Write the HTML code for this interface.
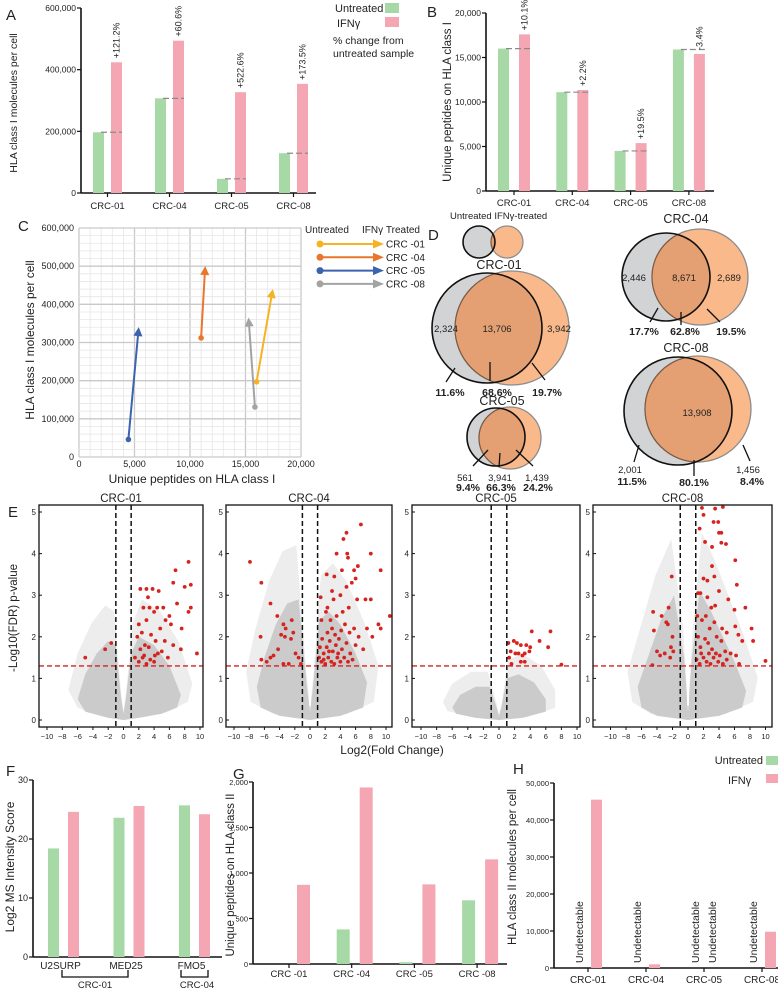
<!DOCTYPE html>
<html><head><meta charset="utf-8"><style>
html,body{margin:0;padding:0;background:#fff}
svg{display:block;font-family:"Liberation Sans",Arial,sans-serif}
text{fill:#222}
</style></head><body>
<svg id="fig" width="778" height="990" viewBox="0 0 778 990" xmlns="http://www.w3.org/2000/svg">
<defs>
<clipPath id="clip01"><circle cx="487" cy="328" r="55"/></clipPath>
<clipPath id="clip04"><circle cx="666" cy="277" r="44"/></clipPath>
<clipPath id="clip05"><circle cx="496" cy="437" r="29"/></clipPath>
<clipPath id="clip08"><circle cx="678" cy="411" r="54"/></clipPath>
<clipPath id="clipLeg"><circle cx="479" cy="242" r="16"/></clipPath>
</defs>
</svg>
<script>
// ---------- DATA ----------
const aCats=['CRC-01','CRC-04','CRC-05','CRC-08'];
const aUntreated=[197000,307000,46000,129000];
const aIfn=[424000,494000,327000,354000];
const aPct=['+121.2%','+60.6%','+522.6%','+173.5%'];
const aTicks=[0,200000,400000,600000];

const bCats=['CRC-01','CRC-04','CRC-05','CRC-08'];
const bUntreated=[16000,11100,4500,15900];
const bIfn=[17600,11350,5380,15400];
const bPct=['+10.1%','+2.2%','+19.5%','-3.4%'];
const bTicks=[0,5000,10000,15000,20000];

const cNames=['CRC -01','CRC -04','CRC -05','CRC -08'];
const cPepUntreated=[16000,11000,4450,15850];
const cPepIfn=[17400,11350,5350,15300];
const cMolUntreated=[197000,312000,46000,131000];
const cMolIfn=[430000,490000,330000,355000];
const cColors=['#f5b323','#e8762c','#3c63ad','#a3a3a3'];
const cXTicks=[0,5000,10000,15000,20000];
const cYTicks=[0,100000,200000,300000,400000,500000,600000];

const fCats=['U2SURP','MED25','FMO5'];
const fUntreated=[18.4,23.6,25.7];
const fIfn=[24.6,25.6,24.2];
const fTicks=[0,10,20,30];

const gCats=['CRC -01','CRC -04','CRC -05','CRC -08'];
const gUntreated=[0,380,20,700];
const gIfn=[870,1940,875,1150];
const gTicks=[0,500,1000,1500,2000];

const hCats=['CRC-01','CRC-04','CRC-05','CRC-08'];
const hUntreated=[null,null,null,null];
const hIfn=[45500,1000,null,9800];
const hTicks=[0,10000,20000,30000,40000,50000];

const eTitles=['CRC-01','CRC-04','CRC-05','CRC-08'];
const eXTicks=[-10,-8,-6,-4,-2,0,2,4,6,8,10];
const eYTicks=[0,1,2,3,4,5];
const eCloud1=[[-6,0.5],[-5,1.1],[-3.5,1.6],[-2,1.9],[-1,1.8],[-0.3,0.5],[0,0.15],[0.3,0.5],[1,1.6],[2,2.0],[4,1.8],[6,1.3],[7.5,0.6],[7,0.3],[5,0.15],[2,0.05],[0,0],[-2,0.05],[-5,0.2]];
const eCloud2=[[-7,0.8],[-6,1.5],[-4.5,2.3],[-3,2.8],[-1.5,2.9],[-0.4,0.8],[0,0.2],[0.4,0.8],[1.2,2.4],[2.5,2.6],[4,2.3],[6,1.6],[7.5,0.9],[7,0.3],[4,0.1],[0,0],[-4,0.1],[-6.5,0.3]];
const eCloud3=[[-6,0.3],[-5,0.6],[-3,0.8],[-1.2,0.8],[-0.3,0.3],[0,0.1],[0.3,0.3],[1,1.0],[2.5,1.1],[4.5,0.9],[6,0.5],[6,0.2],[3,0.05],[0,0],[-3,0.05],[-5.5,0.15]];
const eCloud4=[[-6.5,0.8],[-5,1.6],[-3.5,2.4],[-1.8,3.0],[-0.5,1.5],[0,0.2],[0.5,1.5],[1.5,3.1],[3,2.6],[4.5,2.0],[6,1.4],[7.5,0.7],[7,0.3],[4,0.1],[0,0],[-4,0.1],[-6,0.3]];
const eRed1=[[2,1.4],[2.5,1.5],[3,1.35],[3.5,1.45],[4,1.4],[4.5,1.6],[2.2,1.7],[2.8,1.8],[3.3,1.75],[4.2,1.9],[5,1.65],[1.8,2.0],[2.4,2.1],[3.6,2.05],[4.8,2.2],[5.5,2.4],[6.2,2.3],[2,2.3],[3,2.4],[4,2.6],[2.6,2.7],[3.4,2.7],[4.4,2.7],[5.2,2.7],[6,2.5],[7,2.8],[7.6,2.2],[8.5,2.6],[8.8,2.7],[9.6,1.6],[7.5,1.7],[6.5,1.8],[2.2,3.15],[3,3.15],[3.8,3.15],[4.6,3.1],[6.5,3.3],[8,3.2],[8.8,3.25],[6.8,3.6],[8.5,3.8],[-2.4,1.7],[-5,1.5],[-1.6,1.85],[5.8,1.5],[1.5,1.5],[3.2,2.95],[2.7,1.55],[4.1,1.55],[5.4,1.9]];
const eRed2=[[-7.9,3.8],[-6.4,3.3],[-5.2,2.8],[-4.3,2.5],[-6.5,2.0],[-6.4,1.45],[-5.7,1.4],[-5.2,1.5],[-4.8,1.55],[-4.2,1.7],[-3.8,2.05],[-3.3,2.0],[-3.5,2.3],[-3.2,2.2],[-2.4,2.4],[-2.2,2.1],[-2.5,1.95],[-1.9,1.6],[-1.5,1.5],[-2.8,1.35],[-3.5,1.35],[-1.2,1.35],[1.2,1.5],[1.5,1.4],[1.8,1.6],[2,1.35],[2.2,1.75],[2.4,1.5],[2.6,1.9],[2.8,1.4],[3,1.65],[3.2,1.35],[3.4,1.8],[3.6,1.5],[3.8,1.95],[4,1.4],[4.2,1.7],[4.5,1.5],[4.8,1.85],[5,1.4],[5.3,1.6],[5.6,1.45],[6,1.8],[1.6,1.95],[2.3,2.1],[2.9,2.2],[3.3,2.05],[4.1,2.15],[4.6,2.3],[5.2,2.1],[5.8,2.2],[6.4,2.0],[7,1.7],[7.5,2.2],[8.2,2.0],[9,2.3],[9.3,2.2],[10.5,2.5],[1.5,2.4],[2.1,2.6],[2.7,2.4],[3.5,2.5],[4.3,2.6],[5.1,2.7],[1.4,2.95],[2.3,2.7],[3.1,2.9],[4,3.0],[4.8,3.2],[5.5,3.3],[6.2,2.9],[7.3,2.9],[8.0,2.9],[2.2,3.5],[3.2,3.45],[4.2,3.6],[5.8,3.6],[6.0,3.4],[6.3,3.7],[9.3,3.6],[3.5,4.0],[4.9,4.0],[8.0,4.0],[4.4,4.35],[4.8,4.5],[6.7,4.7],[5.0,3.9],[2.9,3.1],[1.8,1.45],[2.5,1.65],[3.7,1.6],[1.3,1.75]];
const eRed3=[[1.2,1.85],[1.3,1.5],[1.5,1.65],[1.9,1.9],[2.1,1.6],[2.3,1.85],[2.5,1.6],[2.8,1.8],[3.0,1.55],[3.3,1.6],[3.5,1.8],[3.9,1.65],[3.3,1.4],[2.8,1.4],[4.2,2.13],[5.2,1.9],[6.3,1.75],[6.6,2.13],[8.0,1.33],[4.0,1.75],[1.6,1.35]];
const eRed4=[[-4.5,2.6],[-4.4,2.15],[-3.4,2.5],[-2.1,3.45],[-4.0,1.65],[-3.6,1.55],[-3.0,1.6],[-2.8,2.35],[-2.6,2.3],[-2.2,1.75],[-1.9,1.65],[-2.3,1.5],[-4.6,1.32],[-2.0,2.0],[-2.5,2.7],[1.8,5.1],[2.0,4.93],[3.5,5.08],[4.5,5.12],[1.5,4.6],[2.2,4.28],[3.3,4.76],[3.9,4.76],[4.0,4.5],[4.3,4.5],[3.1,4.16],[4.3,4.26],[4.9,4.23],[6.1,3.84],[3.1,3.7],[2.0,3.4],[2.5,3.35],[3.4,3.45],[1.3,3.05],[1.6,3.05],[2.5,2.95],[3.0,2.7],[3.5,2.75],[4.0,3.1],[5.2,2.9],[6.3,3.25],[7.4,2.7],[6.0,2.65],[8.2,2.2],[8.4,1.9],[10,1.42],[1.2,2.5],[1.8,2.4],[2.3,2.5],[2.8,2.2],[3.4,2.35],[4.4,2.2],[5.0,2.1],[6.1,2.25],[6.5,2.05],[7.0,1.9],[1.3,2.0],[1.6,1.75],[2.2,1.95],[2.6,1.85],[3.1,1.7],[3.7,2.0],[4.3,1.9],[4.8,1.65],[5.5,1.6],[6.2,1.55],[6.6,1.35],[1.1,1.45],[1.5,1.35],[2.0,1.5],[2.4,1.4],[2.9,1.35],[3.3,1.5],[3.9,1.4],[4.5,1.35],[5.0,1.45],[1.7,1.6],[2.7,1.6],[3.6,1.6],[4.1,1.55]];

// ---------- HELPERS ----------
const NS='http://www.w3.org/2000/svg';
const svg=document.getElementById('fig');
function E(p,tag,a,t){const e=document.createElementNS(NS,tag);for(const k in a)e.setAttribute(k,a[k]);if(t!=null)e.textContent=t;p.appendChild(e);return e;}
function fmt(v){return v.toLocaleString('en-US');}
const GREEN='#a6d9a6', PINK='#f4a7b2';

function label(x,y,txt,size,name,extra){
  const t=E(svg,'text',Object.assign({x:x,y:y,'font-size':size},extra||{}),txt);
  
  
  return t;
}
function vlabel(x,y,txt,size,name){
  const t=E(svg,'text',{x:0,y:0,'font-size':size,'text-anchor':'middle',transform:'translate('+x+','+y+') rotate(-90)'},txt);
  
  
  return t;
}

function barChart(o){
  const g=E(svg,'g',{});
  
  
  const ys=v=>o.y0-(v/o.max)*(o.y0-o.ytop);
  const ax=E(g,'line',{x1:o.ax,y1:o.ytop,x2:o.ax,y2:o.y0,stroke:'#111','stroke-width':1.6});
  
  
  const xx=E(g,'line',{x1:o.ax,y1:o.y0,x2:o.xend,y2:o.y0,stroke:'#111','stroke-width':1.6});
  
  
  o.ticks.forEach(v=>{
    const tk=E(g,'line',{x1:o.ax-4,y1:ys(v),x2:o.ax,y2:ys(v),stroke:'#111','stroke-width':1.2});
    
    
    const tl=E(g,'text',{x:o.ax-5,y:ys(v)+3,'font-size':o.tfs||8.5,'text-anchor':'end'},fmt(v));
    
    
  });
  o.cats.forEach((c,i)=>{
    const cx=o.c0+i*o.step;
    const u=o.unt[i], f=o.ifn[i];
    if(u!=null){
      const r=E(g,'rect',{x:cx-o.gOff,y:ys(u),width:o.w,height:o.y0-ys(u),fill:GREEN});
      
      
    } else if(o.undet){
      const t=E(g,'text',{x:0,y:0,'font-size':10.5,transform:'translate('+(cx-o.gOff+o.w-2)+','+(o.y0-5)+') rotate(-90)'},'Undetectable');
      
      
    }
    if(f!=null){
      const r=E(g,'rect',{x:cx+o.pOff,y:ys(f),width:o.w,height:o.y0-ys(f),fill:PINK});
      
      
    } else if(o.undet){
      const t=E(g,'text',{x:0,y:0,'font-size':10.5,transform:'translate('+(cx+o.pOff+o.w-2)+','+(o.y0-5)+') rotate(-90)'},'Undetectable');
      
      
    }
    if(o.dash && u!=null){
      const d=E(g,'line',{x1:cx-o.gOff+o.w-3,y1:ys(u),x2:cx+o.pOff+o.w,y2:ys(u),stroke:'#8a8a8a','stroke-width':1.2,'stroke-dasharray':'6,3'});
      
      
    }
    if(o.pct){
      const px=cx+o.pOff+o.w/2+3, py=ys(f)-4;
      const t=E(g,'text',{x:0,y:0,'font-size':9,transform:'translate('+px+','+py+') rotate(-90)'},o.pct[i]);
      
      
    }
    if(o.catTick){
      const tk=E(g,'line',{x1:cx+o.tickOff,y1:o.y0,x2:cx+o.tickOff,y2:o.y0+4,stroke:'#111','stroke-width':1.2});
      
      
    }
    const tl=E(g,'text',{x:cx+o.labOff,y:o.y0+o.labDy,'font-size':o.cfs||9.5,'text-anchor':'middle'},c);
    
    
  });
}

// ---------- PANEL A ----------
label(6,20,'A',15,'panel-label-a');
barChart({name:'chart-a',cats:aCats,unt:aUntreated,ifn:aIfn,pct:aPct,ticks:aTicks,max:600000,ax:81,ytop:8,y0:193,xend:316,c0:107.5,step:62,w:11,gOff:14.5,pOff:3.5,dash:true,catTick:true,tickOff:0,labOff:0,labDy:16});
vlabel(17,103,'HLA class I molecules per cell',10.5,'y-axis-title-a');
label(335,12,'Untreated',11,'legend-untreated-label');
let lg=E(svg,'rect',{x:385,y:3,width:14,height:10,fill:GREEN});


label(337,27,'IFNγ',11,'legend-ifn-label');
lg=E(svg,'rect',{x:385,y:17,width:14,height:10,fill:PINK});


label(333,44,'%  change from',10.5,'legend-percent-note');
label(333,57,'untreated sample',10.5,'legend-percent-note-2');

// ---------- PANEL B ----------
label(427,17,'B',15,'panel-label-b');
barChart({name:'chart-b',cats:bCats,unt:bUntreated,ifn:bIfn,pct:bPct,ticks:bTicks,max:20000,ax:486,ytop:13,y0:191,xend:714,c0:514,step:58.3,w:11,gOff:16,pOff:5,dash:true,catTick:true,tickOff:0,labOff:0,labDy:15});
vlabel(451,102,'Unique peptides on HLA class I',11.5,'y-axis-title-b');

// ---------- PANEL C ----------
label(18,231,'C',15,'panel-label-c');
(function(){
  const X0=79,X1=301,Y0=457,Y1=228;
  const xs=v=>X0+v/20000*(X1-X0), ys=v=>Y0-v/600000*(Y0-Y1);
  const g=E(svg,'g',{});
  
  
  for(let v=0;v<=20000;v+=1000){
    const l=E(g,'line',{x1:xs(v),y1:Y1,x2:xs(v),y2:Y0,stroke:v%5000===0?'#c9c9c9':'#e6e6e6','stroke-width':v%5000===0?1.3:0.8});
    
    
  }
  for(let v=0;v<=600000;v+=20000){
    const l=E(g,'line',{x1:X0,y1:ys(v),x2:X1,y2:ys(v),stroke:v%100000===0?'#c9c9c9':'#e6e6e6','stroke-width':v%100000===0?1.3:0.8});
    
    
  }
  cYTicks.forEach(v=>{
    const t=E(g,'text',{x:X0-5,y:ys(v)+3,'font-size':9,'text-anchor':'end'},fmt(v));
    
    
  });
  cXTicks.forEach(v=>{
    const t=E(g,'text',{x:xs(v),y:Y0+10,'font-size':9,'text-anchor':'middle'},fmt(v));
    
    
  });
  cNames.forEach((n,i)=>{
    const x1=xs(cPepUntreated[i]),y1=ys(cMolUntreated[i]),x2=xs(cPepIfn[i]),y2=ys(cMolIfn[i]);
    const ang=Math.atan2(y2-y1,x2-x1);
    const ln=E(g,'line',{x1:x1,y1:y1,x2:x2,y2:y2,stroke:cColors[i],'stroke-width':2});
    
    
    const L=9,W=4.5;
    const tx=x2+Math.cos(ang)*4, ty=y2+Math.sin(ang)*4;
    const bx=tx-Math.cos(ang)*L, by=ty-Math.sin(ang)*L;
    const pts=[[tx,ty],[bx-Math.sin(ang)*W,by+Math.cos(ang)*W],[bx+Math.sin(ang)*W,by-Math.cos(ang)*W]].map(p=>p.join(',')).join(' ');
    const hd=E(g,'polygon',{points:pts,fill:cColors[i]});
    
    
    const dt=E(g,'circle',{cx:x1,cy:y1,r:2.8,fill:cColors[i]});
    
    
    const ly=244+i*13.3;
    const lc=E(g,'circle',{cx:320,cy:ly,r:3.5,fill:cColors[i]});
    
    
    const ll=E(g,'line',{x1:320,y1:ly,x2:375,y2:ly,stroke:cColors[i],'stroke-width':2});
    
    
    const lh=E(g,'polygon',{points:'373,'+(ly-4.5)+' 384,'+ly+' 373,'+(ly+4.5),fill:cColors[i]});
    
    
    const lt=E(g,'text',{x:386,y:ly+3.5,'font-size':10},n);
    
    
  });
})();
label(305,233,'Untreated',10,'legend-c-untreated');
label(362,233,'IFNγ Treated',10,'legend-c-treated');
label(192,483,'Unique peptides on HLA class I',12,'x-axis-title-c',{'text-anchor':'middle'});
vlabel(34,340,'HLA class I molecules per cell',12,'y-axis-title-c');

// ---------- PANEL D (Venn) ----------
label(428,240,'D',15,'panel-label-d');
function venn(g1,o1,clip,name){
  const g=E(svg,'g',{});
  
  
  const a=E(g,'circle',{cx:g1[0],cy:g1[1],r:g1[2],fill:'#d1d3d5'});
  
  
  const b=E(g,'circle',{cx:o1[0],cy:o1[1],r:o1[2],fill:'#f9b98b',stroke:'#8c8c8c','stroke-width':1.3});
  
  
  const c=E(g,'circle',{cx:o1[0],cy:o1[1],r:o1[2],fill:'#e4a072',stroke:'#7b5a45','stroke-width':1.2,'clip-path':'url(#'+clip+')'});
  
  
  const d=E(g,'circle',{cx:g1[0],cy:g1[1],r:g1[2],fill:'none',stroke:'#111','stroke-width':1.6});
  
  
}
venn([479,242,16],[507,242,16],'clipLeg','venn-legend');
label(450,219,'Untreated IFNγ-treated',9.5,'venn-legend-label');
venn([487,328,55],[512,328,57],'clip01','venn-crc-01');
venn([666,277,44],[700,277,48],'clip04','venn-crc-04');
venn([496,437,29],[510,438,31],'clip05','venn-crc-05');
venn([678,411,54],[698,409,53],'clip08','venn-crc-08');
label(499,269,'CRC-01',12.5,'venn-title-crc-01',{'text-anchor':'middle'});
label(686,223,'CRC-04',12.5,'venn-title-crc-04',{'text-anchor':'middle'});
label(502,405,'CRC-05',12.5,'venn-title-crc-05',{'text-anchor':'middle'});
label(686,352,'CRC-08',12.5,'venn-title-crc-08',{'text-anchor':'middle'});
[[446,332,'2,324'],[497,332,'13,706'],[559,332,'3,942'],[634,281,'2,446'],[684,281,'8,671'],[729,281,'2,689'],[697,416,'13,908'],[465,481,'561'],[500,481,'3,941'],[537,481,'1,439'],[630,473,'2,001'],[748,473,'1,456']].forEach(d=>{
  label(d[0],d[1],d[2],9.5,'venn-count',{'text-anchor':'middle'});
});
[[450,396,'11.6%'],[497,396,'68.6%'],[547,396,'19.7%'],[644,335,'17.7%'],[685,335,'62.8%'],[731,335,'19.5%'],[468,491,'9.4%'],[501,491,'66.3%'],[538,491,'24.2%'],[632,485,'11.5%'],[694,486,'80.1%'],[752,485,'8.4%']].forEach(d=>{
  label(d[0],d[1],d[2],10.5,'venn-percent',{'text-anchor':'middle','font-weight':'bold'});
});
[[455,368,446,382],[490,362,490,381],[532,363,545,380],[658,308,650,322],[681,312,681,325],[707,309,720,322],[488,450,473,466],[500,453,499,467],[516,450,533,466],[639,445,634,462],[694,460,694,476],[743,445,750,461]].forEach(l=>{
  const e=E(svg,'line',{x1:l[0],y1:l[1],x2:l[2],y2:l[3],stroke:'#111','stroke-width':1.3});
  
  
});

// ---------- PANEL E (volcano) ----------
label(8,517,'E',15,'panel-label-e');
const eLayout=[{z:123.5,u:7.65,L:39,R:203},{z:310,u:7.6,L:226,R:392},{z:499,u:7.8,L:412,R:580},{z:688,u:7.75,L:593,R:772}];
const eClouds=[eCloud1,eCloud2,eCloud3,eCloud4];
const eReds=[eRed1,eRed2,eRed3,eRed4];
eTitles.forEach((t,i)=>{
  const P=eLayout[i], Y0=720, YU=41.6, TOP=505, BOT=727;
  const xs=v=>P.z+v*P.u, ys=v=>Y0-v*YU;
  const g=E(svg,'g',{});
  
  
  const halo=E(g,'polygon',{points:eClouds[i].map(p=>xs(p[0]*1.2)+','+ys(p[1]*1.45)).join(' '),fill:'#ededed'});
  
  
  const core=E(g,'polygon',{points:eClouds[i].map(p=>xs(p[0])+','+ys(p[1])).join(' '),fill:'#cbcbcb'});
  
  
  const notch=E(g,'polygon',{points:xs(-0.25)+','+ys(5)+' '+xs(0.25)+','+ys(5)+' '+xs(0.12)+','+ys(0.35)+' '+xs(-0.12)+','+ys(0.35),fill:'#fff'});
  
  
  eReds[i].forEach(p=>{
    const c=E(g,'circle',{cx:xs(p[0]),cy:ys(p[1]),r:1.9,fill:'#d6231f'});
    
    
  });
  const h=E(g,'line',{x1:P.L,y1:ys(1.3),x2:P.R,y2:ys(1.3),stroke:'#d6231f','stroke-width':1.3,'stroke-dasharray':'5,3'});
  
  
  [-1,1].forEach(v=>{
    const l=E(g,'line',{x1:xs(v),y1:TOP,x2:xs(v),y2:BOT,stroke:'#111','stroke-width':1.5,'stroke-dasharray':'5,3'});
    
    
  });
  const fr=E(g,'rect',{x:P.L,y:TOP,width:P.R-P.L,height:BOT-TOP,fill:'none',stroke:'#111','stroke-width':1.3});
  
  
  eYTicks.forEach(v=>{
    const tk=E(g,'line',{x1:P.L,y1:ys(v),x2:P.L+3,y2:ys(v),stroke:'#111','stroke-width':1});
    
    
    const tl=E(g,'text',{x:P.L-3,y:ys(v)+3,'font-size':8,'text-anchor':'end'},String(v));
    
    
  });
  eXTicks.forEach(v=>{
    const tk=E(g,'line',{x1:xs(v),y1:BOT,x2:xs(v),y2:BOT+3,stroke:'#111','stroke-width':1});
    
    
    const tl=E(g,'text',{x:xs(v),y:BOT+12,'font-size':7.5,'text-anchor':'middle'},v<0?'\u2212'+(-v):String(v));
    
    
  });
  const tt=E(g,'text',{x:(P.L+P.R)/2,y:TOP-3,'font-size':11.5,'text-anchor':'middle'},t);
  
  
});
vlabel(17,618,'-Log10(FDR) p-value',11.5,'y-axis-title-e');
label(392,754,'Log2(Fold Change)',12,'x-axis-title-e',{'text-anchor':'middle'});

// ---------- PANEL F ----------
label(6,776,'F',15,'panel-label-f');
barChart({name:'chart-f',cats:fCats,unt:fUntreated,ifn:fIfn,ticks:fTicks,max:30,ax:33,ytop:780,y0:957,xend:222,c0:63.5,step:65.5,w:11,gOff:15.5,pOff:4.5,catTick:false,labOff:-3,labDy:12,cfs:10,tfs:9});
vlabel(14,867,'Log2 MS Intensity Score',12,'y-axis-title-f');
let br=E(svg,'path',{d:'M62,970 V977 H128 V970',fill:'none',stroke:'#111','stroke-width':1.3});


br=E(svg,'path',{d:'M181,970 V977 H208 V970',fill:'none',stroke:'#111','stroke-width':1.3});


label(95,988,'CRC-01',9.5,'bracket-label-crc-01',{'text-anchor':'middle'});
label(197,988,'CRC-04',9.5,'bracket-label-crc-04',{'text-anchor':'middle'});

// ---------- PANEL G ----------
label(233,779,'G',15,'panel-label-g');
barChart({name:'chart-g',cats:gCats,unt:gUntreated,ifn:gIfn,ticks:gTicks,max:2000,ax:253,ytop:782,y0:964,xend:507,c0:293,step:62.7,w:13,gOff:19,pOff:4,catTick:true,tickOff:-4,labOff:-4,labDy:13,cfs:9.5,tfs:7.5});
vlabel(234,875,'Unique peptides on HLA class II',11.5,'y-axis-title-g');

// ---------- PANEL H ----------
label(513,774,'H',15,'panel-label-h');
barChart({name:'chart-h',cats:hCats,unt:hUntreated,ifn:hIfn,ticks:hTicks,max:50000,ax:554,ytop:783,y0:968,xend:778,c0:588,step:58,w:11,gOff:14,pOff:3,undet:true,catTick:true,tickOff:0,labOff:0,labDy:15,cfs:10,tfs:7.5});
vlabel(516,867,'HLA class II molecules per cell',11.5,'y-axis-title-h');
label(763,764,'Untreated',11,'legend-h-untreated',{'text-anchor':'end'});
lg=E(svg,'rect',{x:766,y:756,width:12,height:9,fill:GREEN});


label(728,784,'IFNγ',11,'legend-h-ifn');
lg=E(svg,'rect',{x:766,y:774,width:12,height:9,fill:PINK});


</script>
</body></html>
